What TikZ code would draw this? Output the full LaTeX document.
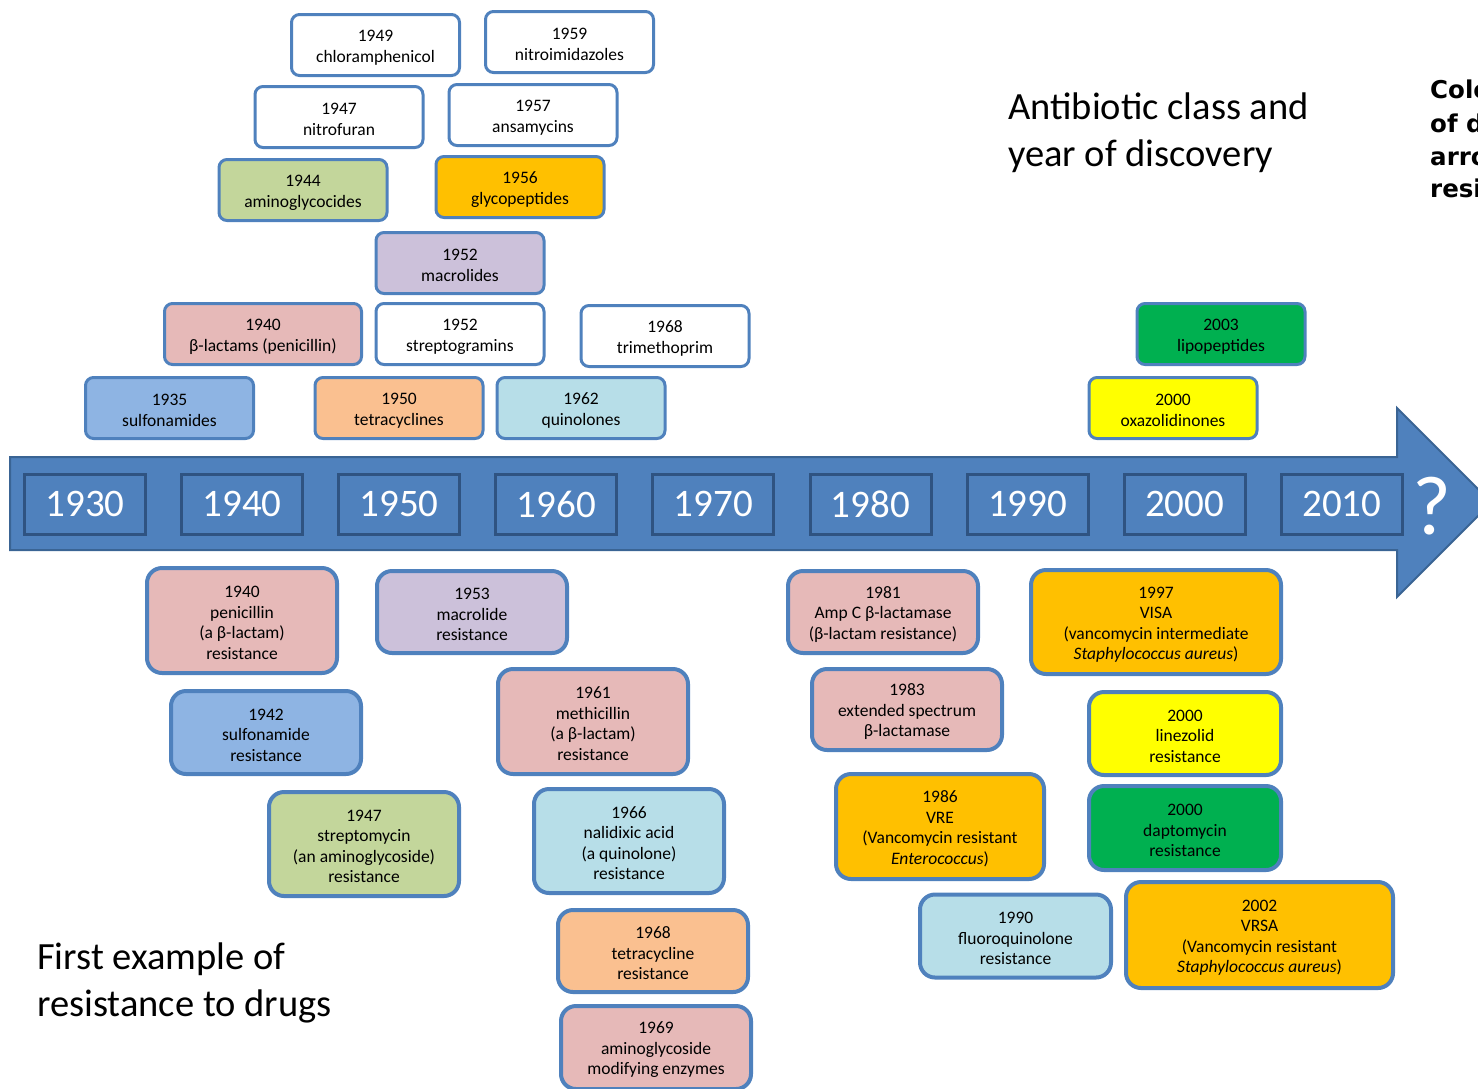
\documentclass[tikz,border=0pt]{standalone}
\usepackage{fontspec}
\setmainfont{Carlito}
\newfontfamily\boldsans{DejaVu Sans}
\newcommand\fl{\rule{0pt}{16.5pt}}
\definecolor{pinkc}{HTML}{E6B9B8}
\definecolor{lavc}{HTML}{CCC1DA}
\definecolor{greenc}{HTML}{C3D69B}
\definecolor{lbluec}{HTML}{B7DEE8}
\definecolor{sblue}{HTML}{8EB4E3}
\definecolor{orangec}{HTML}{FAC090}
\definecolor{goldc}{HTML}{FFC000}
\definecolor{yellowc}{HTML}{FFFF00}
\definecolor{dgreenc}{HTML}{00B050}
\definecolor{bord}{HTML}{4F81BD}
\definecolor{arrowc}{HTML}{4F81BD}
\definecolor{arrowb}{HTML}{3A6494}
\definecolor{yearb}{HTML}{2F5381}
\tikzset{
  topbox/.style={draw=bord, line width=3pt, rounded corners=8pt, fill=white,
    minimum width=168pt, minimum height=61pt, inner sep=0pt, align=center,
    font=\fontsize{17.5}{20.5}\selectfont},
  botbox/.style={draw=bord, line width=4pt, rounded corners=15pt, fill=white,
    minimum width=190pt, inner sep=0pt, align=center,
    font=\fontsize{17.5}{20.5}\selectfont},
  yearbox/.style={draw=yearb, line width=3pt, fill=arrowc, minimum width=121pt,
    minimum height=60pt, inner sep=0pt, text=white,
    font=\fontsize{39}{42}\selectfont},
  heading/.style={align=left, inner sep=0pt, anchor=west,
    font=\fontsize{38.5}{47}\selectfont},
  sidenote/.style={anchor=base west, inner sep=0pt,
    font=\boldsans\bfseries\fontsize{24.5}{33}\selectfont}
}
\begin{document}
\begin{tikzpicture}[x=1pt,y=-1pt]
\useasboundingbox (0,0) rectangle (1478,1088);
\clip (0,0) rectangle (1478,1088);
% arrow
\draw[fill=arrowc, draw=arrowb, line width=2pt, line join=miter]
  (10,457) -- (1397,457) -- (1397,408) -- (1491.5,502.5) -- (1397,597)
  -- (1397,550) -- (10,550) -- cycle;
\foreach \y [count=\i from 0] in {1930,1940,1950,1960,1970,1980,1990,2000,2010}
  \node[yearbox] (y\y) at ({85+157.1*\i},504) {\y};
\node[text=white, inner sep=0pt, font=\fontsize{84}{84}\selectfont] (q) at (1432,506) {?};
% discovery boxes
\node[topbox] (chlor) at (375.5,45) {\fl1949\\chloramphenicol};
\node[topbox] (nitroim) at (569.5,42) {\fl1959\\nitroimidazoles};
\node[topbox] (nitrof) at (339,117) {\fl1947\\nitrofuran};
\node[topbox] (ansa) at (533,115) {\fl1957\\ansamycins};
\node[topbox, fill=greenc] (amino) at (303,190) {\fl1944\\aminoglycocides};
\node[topbox, fill=goldc] (glyco) at (520,187) {\fl1956\\glycopeptides};
\node[topbox, fill=lavc] (macro) at (460,263) {\fl1952\\macrolides};
\node[topbox, fill=pinkc, minimum width=197pt] (blact) at (263,334) {\fl1940\\β-lactams (penicillin)};
\node[topbox] (strepto) at (460,334) {\fl1952\\streptogramins};
\node[topbox] (trimeth) at (665,336) {\fl1968\\trimethoprim};
\node[topbox, fill=sblue] (sulfa) at (169.5,408) {\fl1935\\sulfonamides};
\node[topbox, fill=orangec] (tetra) at (399,408) {\fl1950\\tetracyclines};
\node[topbox, fill=lbluec] (quino) at (581,408) {\fl1962\\quinolones};
\node[topbox, fill=dgreenc] (lipo) at (1221,334) {\fl2003\\lipopeptides};
\node[topbox, fill=yellowc] (oxaz) at (1173,408) {\fl2000\\oxazolidinones};
% resistance boxes
\node[botbox, fill=pinkc, minimum height=105pt] (penR) at (242,620.5) {\fl1940\\penicillin\\(a β-lactam)\\resistance};
\node[botbox, fill=lavc, minimum height=82pt] (macR) at (472,612) {\fl1953\\macrolide\\resistance};
\node[botbox, fill=sblue, minimum height=83pt] (sulfR) at (266,732.5) {\fl1942\\sulfonamide\\resistance};
\node[botbox, fill=pinkc, minimum height=105pt] (methR) at (593,721.5) {\fl1961\\methicillin\\(a β-lactam)\\resistance};
\node[botbox, fill=greenc, minimum height=104pt] (strepR) at (364,844) {\fl1947\\streptomycin\\(an aminoglycoside)\\resistance};
\node[botbox, fill=lbluec, minimum height=104pt] (nalR) at (629,841) {\fl1966\\nalidixic acid\\(a quinolone)\\resistance};
\node[botbox, fill=orangec, minimum height=82pt] (tetR) at (653,951) {\fl1968\\tetracycline\\resistance};
\node[botbox, fill=pinkc, minimum height=83pt] (aminoR) at (656,1047.5) {\fl1969\\aminoglycoside\\modifying enzymes};
\node[botbox, fill=pinkc, minimum height=82pt] (ampC) at (883,612) {\fl1981\\Amp C β-lactamase\\(β-lactam resistance)};
\node[botbox, fill=pinkc, minimum height=81pt] (esbl) at (907,709.5) {\fl1983\\extended spectrum\\β-lactamase};
\node[botbox, fill=goldc, minimum height=105pt, minimum width=208pt] (vre) at (940,826.5) {\fl1986\\VRE\\(Vancomycin resistant\\\textit{Enterococcus})};
\node[botbox, fill=lbluec, minimum height=83pt, minimum width=191pt] (fluoR) at (1015.5,936) {\fl1990\\fluoroquinolone\\resistance};
\node[botbox, fill=goldc, minimum height=104pt, minimum width=250pt] (visa) at (1156,622) {\fl1997\\VISA\\(vancomycin intermediate\\\textit{Staphylococcus aureus})};
\node[botbox, fill=yellowc, minimum height=83pt, minimum width=192pt] (linR) at (1185,733.5) {\fl2000\\linezolid\\resistance};
\node[botbox, fill=dgreenc, minimum height=84pt, minimum width=192pt] (dapR) at (1185,828) {\fl2000\\daptomycin\\resistance};
\node[botbox, fill=goldc, minimum height=106pt, minimum width=267pt] (vrsa) at (1259.5,935) {\fl2002\\VRSA\\(Vancomycin resistant\\\textit{Staphylococcus aureus})};
% headings
\node[heading] (h1) at (1008,133) {Antibiotic class and\\year of discovery};
\node[heading] (h2) at (37,983) {First example of\\resistance to drugs};
\node[sidenote] (s1) at (1430,98) {Colour};
\node[sidenote] (s2) at (1430,132) {of drug};
\node[sidenote] (s3) at (1430,165) {arrow};
\node[sidenote] (s4) at (1430,197) {resistance};
\end{tikzpicture}
\end{document}
